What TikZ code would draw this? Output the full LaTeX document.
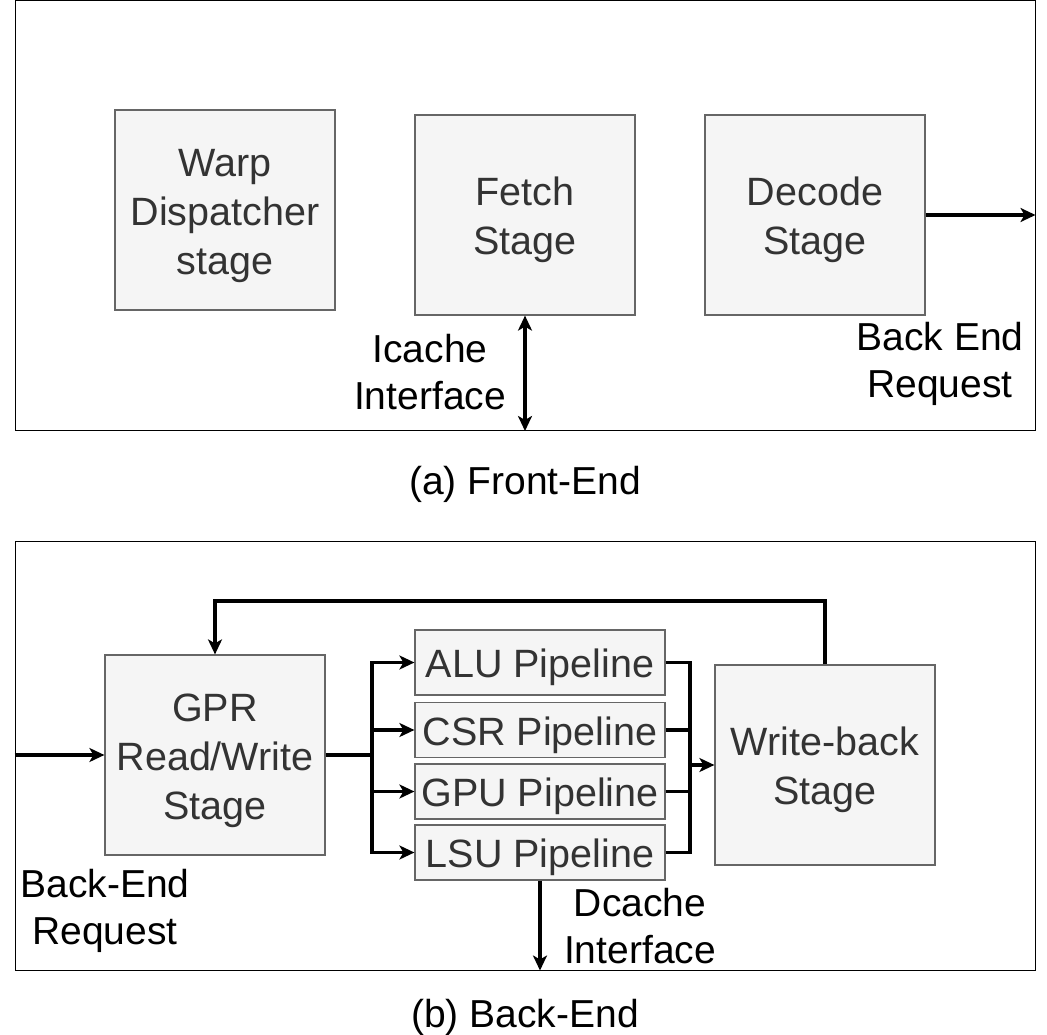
\documentclass[tikz,border=0pt]{standalone}
\usepackage{fontspec}
\setmainfont{Liberation Sans}
\usetikzlibrary{arrows.meta}
\definecolor{boxfill}{HTML}{F5F5F5}
\definecolor{boxline}{HTML}{666666}
\definecolor{boxtext}{HTML}{333333}
\newcommand{\tstrut}{\rule{0pt}{39pt}}
\newcommand{\bstrut}{\rule[-8pt]{0pt}{8pt}}
\begin{document}
\begin{tikzpicture}[x=1pt,y=-1pt,
  stagebox/.style={draw=boxline, fill=boxfill, line width=1.2pt, text=boxtext, align=center, inner sep=0pt,
    font=\fontsize{39.5}{49}\selectfont},
  pipebox/.style={stagebox, minimum width=250pt,
    execute at begin node={\tstrut},
    execute at end node={\bstrut}},
  lbl/.style={align=center, inner sep=0pt, font=\fontsize{39}{47}\selectfont},
  frame/.style={draw=black, line width=1pt, inner sep=0pt},
  wire/.style={line width=3.5pt, line join=miter},
  conn/.style={wire, -{Stealth[length=15pt,width=14pt,inset=4pt]}},
  dconn/.style={wire, {Stealth[length=15pt,width=14pt,inset=4pt]}-{Stealth[length=15pt,width=14pt,inset=4pt]}}
]
\useasboundingbox (0,0) rectangle (1047,1035);

% ---------- (a) Front-End ----------
\node[frame, minimum width=1020pt, minimum height=430pt] (fe) at (525,215.5) {};
\node[stagebox, minimum width=220pt, minimum height=200pt] (warp) at (225,210) {\tstrut Warp\\Dispatcher\\stage\bstrut};
\node[stagebox, minimum width=220pt, minimum height=200pt] (fetch) at (525,215) {\tstrut Fetch\\Stage\bstrut};
\node[stagebox, minimum width=220pt, minimum height=200pt] (decode) at (815,215) {\tstrut Decode\\Stage\bstrut};
\draw[dconn] (fetch.south) -- (fetch.south |- fe.south);
\draw[conn] (decode.east) -- (decode.east -| fe.east);
\node[lbl] (icache) at (430,372) {Icache\\Interface};
\node[lbl] (berq) at (940,364) {Back End\\Request};
\node[lbl] (capa) at (525,484) {(a) Front-End};

% ---------- (b) Back-End ----------
\node[frame, minimum width=1020pt, minimum height=429pt] (be) at (525,755.5) {};
\node[stagebox, minimum width=220pt, minimum height=200pt] (gpr) at (215,755) {\tstrut GPR\\Read/Write\\Stage\bstrut};
\node[pipebox, minimum height=65pt] (alu) at (540,662.5) {ALU Pipeline};
\node[pipebox, minimum height=55pt] (csr) at (540,730) {CSR Pipeline};
\node[pipebox, minimum height=55pt] (gpu) at (540,791.5) {GPU Pipeline};
\node[pipebox, minimum height=55pt] (lsu) at (540,852.5) {LSU Pipeline};
\node[stagebox, minimum width=220pt, minimum height=200pt] (wb) at (825,765) {\tstrut Write-back\\Stage\bstrut};

\coordinate (inL) at (be.west |- gpr.west);
\draw[conn] (inL) -- (gpr.west);

\coordinate (split) at (372,755);
\draw[wire] (gpr.east) -- (split);
\draw[conn] (split) |- (alu.west);
\draw[conn] (split) |- (csr.west);
\draw[conn] (split) |- (gpu.west);
\draw[conn] (split) |- (lsu.west);

\coordinate (merge) at (690,765);
\draw[wire] (alu.east) -| (merge);
\draw[wire] (csr.east) -| (merge);
\draw[wire] (gpu.east) -| (merge);
\draw[wire] (lsu.east) -| (merge);
\draw[conn] (merge) -- (wb.west);

\coordinate (fbtop) at (825,601);
\draw[conn] (wb.north) -- (fbtop) -| (gpr.north);

\draw[conn] (lsu.south) -- (lsu.south |- be.south);

\node[lbl] (dcache) at (640,926) {Dcache\\Interface};
\node[lbl] (berq2) at (105,911) {Back-End\\Request};
\node[lbl] (capb) at (525,1017) {(b) Back-End};
\end{tikzpicture}
\end{document}
